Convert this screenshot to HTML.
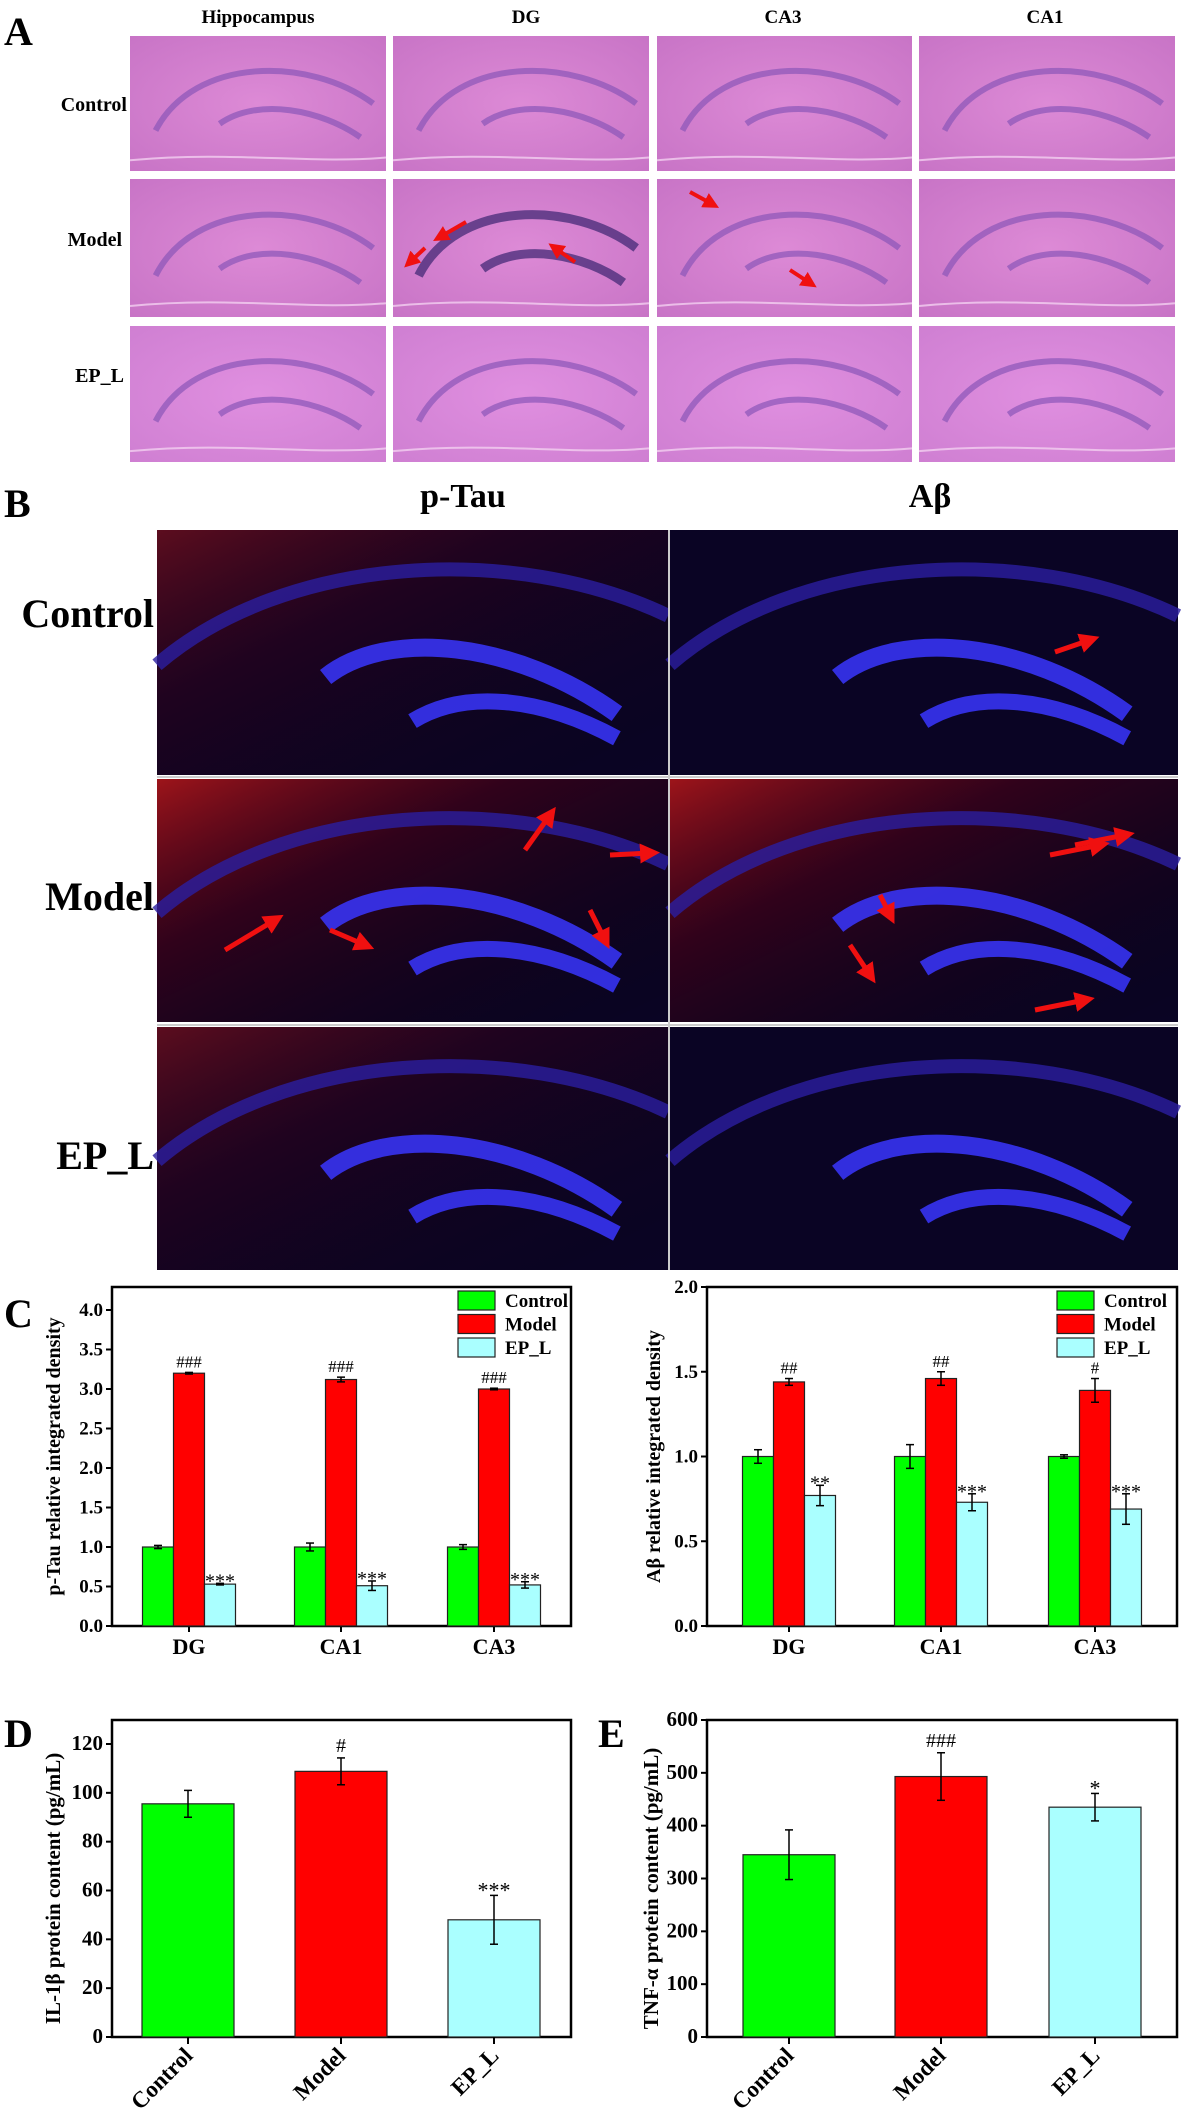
<!DOCTYPE html>
<html><head><meta charset="utf-8">
<style>
html,body{margin:0;padding:0;background:#fff;}
svg{display:block;font-family:"Liberation Serif",serif;font-weight:bold;}
</style></head>
<body>
<svg id="fig" width="1186" height="2112" viewBox="0 0 1186 2112" xmlns="http://www.w3.org/2000/svg">
<defs>
<radialGradient id="he1" cx="50%" cy="50%" r="70%"><stop offset="0" stop-color="#dd8ad6"/><stop offset="1" stop-color="#c874c6"/></radialGradient>
<radialGradient id="he2" cx="50%" cy="50%" r="70%"><stop offset="0" stop-color="#e08fe0"/><stop offset="1" stop-color="#cf7fd2"/></radialGradient>
<linearGradient id="redhaze" x1="0" y1="0" x2="1" y2="1"><stop offset="0" stop-color="#c01818" stop-opacity="0.9"/><stop offset="0.35" stop-color="#600010" stop-opacity="0.5"/><stop offset="1" stop-color="#000" stop-opacity="0"/></linearGradient>
<marker id="ah" markerWidth="4" markerHeight="4" refX="2" refY="2" orient="auto"><path d="M0,0 L4,2 L0,4 z" fill="#f01010"/></marker>
</defs>

<!-- Panel A -->
<g>
<text x="4" y="45" font-size="40">A</text>
<g font-size="19" text-anchor="middle">
<text x="258" y="23">Hippocampus</text>
<text x="526" y="23">DG</text>
<text x="783" y="23">CA3</text>
<text x="1045" y="23">CA1</text>
</g>
<g font-size="20" text-anchor="end">
<text x="127" y="111">Control</text>
<text x="122" y="246">Model</text>
<text x="124" y="382">EP_L</text>
</g>
<g id="heimgs"></g>
</g>

<!-- Panel B -->
<g>
<text x="4" y="517" font-size="40">B</text>
<text x="463" y="507" font-size="34" text-anchor="middle">p-Tau</text>
<text x="930" y="507" font-size="34" text-anchor="middle">Aβ</text>
<g font-size="40" text-anchor="end">
<text x="154" y="627">Control</text>
<text x="154" y="910">Model</text>
<text x="154" y="1169">EP_L</text>
</g>
<g id="fluimgs"></g>
</g>

<g id="charts"></g>
</svg>

<script>
// ---------- Chart data ----------
const groupsC = ["DG", "CA1", "CA3"];
const seriesNames = ["Control", "Model", "EP_L"];
const seriesColors = ["#00ff00", "#ff0000", "#aaffff"];
const ptauControl = [1.00, 1.00, 1.00];
const ptauControlErr = [0.02, 0.05, 0.03];
const ptauModel = [3.20, 3.12, 3.00];
const ptauModelErr = [0.01, 0.03, 0.01];
const ptauEPL = [0.53, 0.51, 0.52];
const ptauEPLErr = [0.01, 0.06, 0.04];
const ptauModelMarks = ["###", "###", "###"];
const ptauEPLMarks = ["***", "***", "***"];
const ptauTicks = ["0.0","0.5","1.0","1.5","2.0","2.5","3.0","3.5","4.0"];

const abControl = [1.00, 1.00, 1.00];
const abControlErr = [0.04, 0.07, 0.01];
const abModel = [1.44, 1.46, 1.39];
const abModelErr = [0.02, 0.04, 0.07];
const abEPL = [0.77, 0.73, 0.69];
const abEPLErr = [0.06, 0.05, 0.09];
const abModelMarks = ["##", "##", "#"];
const abEPLMarks = ["**", "***", "***"];
const abTicks = ["0.0","0.5","1.0","1.5","2.0"];

const groupsDE = ["Control", "Model", "EP_L"];
const il1bValues = [95.5, 108.8, 48.0];
const il1bErr = [5.5, 5.5, 10.0];
const il1bMarks = ["", "#", "***"];
const il1bTicks = ["0","20","40","60","80","100","120"];

const tnfValues = [345, 493, 435];
const tnfErr = [47, 45, 26];
const tnfMarks = ["", "###", "*"];
const tnfTicks = ["0","100","200","300","400","500","600"];

const NS = "http://www.w3.org/2000/svg";
function mk(tag, attrs, parent, text) {
  const e = document.createElementNS(NS, tag);
  for (const k in attrs) e.setAttribute(k, attrs[k]);
  if (text !== undefined) e.textContent = text;
  parent.appendChild(e);
  return e;
}

// ---------- Histology images (decorative) ----------
const heG = document.getElementById("heimgs");
const heCols = [[130,386],[393,649],[657,912],[919,1175]];
const heRows = [[36,171],[179,317],[326,462]];
for (let r = 0; r < 3; r++) for (let c = 0; c < 4; c++) {
  const [x0,x1] = heCols[c], [y0,y1] = heRows[r];
  const w = x1-x0, h = y1-y0;
  const g = mk("g", {}, heG);
  
  
  mk("rect", {x:x0,y:y0,width:w,height:h,fill: r===2 ? "url(#he2)" : "url(#he1)"}, g);
  const band = (r===1 && c===1) ? "#3a2470" : "#8a55b8";
  const sw = (r===1 && c===1) ? 9 : 6;
  mk("path", {d:`M${x0+w*0.1},${y0+h*0.7} C${x0+w*0.25},${y0+h*0.15} ${x0+w*0.7},${y0+h*0.15} ${x0+w*0.95},${y0+h*0.5}`, stroke:band, "stroke-width":sw, fill:"none", opacity:0.7}, g);
  mk("path", {d:`M${x0+w*0.35},${y0+h*0.65} C${x0+w*0.5},${y0+h*0.45} ${x0+w*0.75},${y0+h*0.55} ${x0+w*0.9},${y0+h*0.75}`, stroke:band, "stroke-width":sw, fill:"none", opacity:0.7}, g);
  mk("path", {d:`M${x0},${y0+h*0.92} C${x0+w*0.4},${y0+h*0.85} ${x0+w*0.7},${y0+h*0.95} ${x1},${y0+h*0.9}`, stroke:"#f2d0f0", "stroke-width":2, fill:"none", opacity:0.8}, g);
}
// red arrows in panel A
[[466,182+40,440,182+55],[425,182+66,410,182+80],[575,182+80,555,182+66],[690,192,712,204],[790,270,810,283]].forEach((a,i)=>{
  const l = mk("line",{x1:a[0],y1:a[1],x2:a[2],y2:a[3],stroke:"#f01010","stroke-width":4,"marker-end":"url(#ah)"},heG);
  
  
});

const fG = document.getElementById("fluimgs");
const fCols = [[157,668],[670,1178]];
const fRows = [[530,775],[779,1022],[1027,1270]];
for (let r = 0; r < 3; r++) for (let c = 0; c < 2; c++) {
  const [x0,x1] = fCols[c], [y0,y1] = fRows[r];
  const w = x1-x0, h = y1-y0;
  const g = mk("g", {}, fG);
  
  
  mk("rect", {x:x0,y:y0,width:w,height:h,fill:"#0a0424"}, g);
  if (c===0 || r===1) mk("rect", {x:x0,y:y0,width:w,height:h,fill:"url(#redhaze)", opacity: r===1 ? 0.9 : 0.5}, g);
  mk("path", {d:`M${x0},${y0+h*0.55} C${x0+w*0.25},${y0+h*0.1} ${x0+w*0.7},${y0+h*0.05} ${x1},${y0+h*0.35}`, stroke:"#2a1ea0", "stroke-width":14, fill:"none", opacity:0.8}, g);
  mk("path", {d:`M${x0+w*0.33},${y0+h*0.6} C${x0+w*0.45},${y0+h*0.4} ${x0+w*0.7},${y0+h*0.45} ${x0+w*0.9},${y0+h*0.75}`, stroke:"#3a36ff", "stroke-width":18, fill:"none", opacity:0.85}, g);
  mk("path", {d:`M${x0+w*0.5},${y0+h*0.78} C${x0+w*0.6},${y0+h*0.65} ${x0+w*0.75},${y0+h*0.68} ${x0+w*0.9},${y0+h*0.85}`, stroke:"#3a36ff", "stroke-width":16, fill:"none", opacity:0.85}, g);
}
mk("line",{x1:157,y1:777,x2:1178,y2:777,stroke:"#ccc","stroke-width":2},fG);
mk("line",{x1:157,y1:1025,x2:1178,y2:1025,stroke:"#ccc","stroke-width":2},fG);
mk("line",{x1:669,y1:530,x2:669,y2:1270,stroke:"#ccc","stroke-width":2},fG);
[[1055,652,1090,640],[525,850,550,815],[225,950,275,920],[330,930,365,945],[610,855,650,853],[590,910,605,940],[1075,845,1125,835],[850,945,870,975],[880,895,890,915],[1035,1010,1085,1000],[1050,855,1100,845]].forEach((a,i)=>{
  const l = mk("line",{x1:a[0],y1:a[1],x2:a[2],y2:a[3],stroke:"#f01010","stroke-width":5,"marker-end":"url(#ah)"},fG);
  
  
});

// ---------- Charts ----------
const cG = document.getElementById("charts");
function yScale(v, y0, yTop, vTop) { return y0 - (v / vTop) * (y0 - yTop); }

function frame(box, name) {
  const g = mk("g", {}, cG);
  
  
  const r = mk("rect", {x:box.x0,y:box.y0,width:box.x1-box.x0,height:box.y1-box.y0,fill:"none",stroke:"#000","stroke-width":2.5}, g);
  
  
  return g;
}
function yAxis(g, box, ticks, tickVal, ref, fs) {
  ticks.forEach((t,i)=>{
    const y = yScale(tickVal[i], box.y1, ref.y, ref.v);
    mk("line",{x1:box.x0-6,y1:y,x2:box.x0,y2:y,stroke:"#000","stroke-width":2},g);
    const tx = mk("text",{x:box.x0-9,y:y+6,"font-size":fs,"text-anchor":"end"},g,t);
    
    
  });
}
function errBar(g, x, yv, ye, scaleFn) {
  const yt = scaleFn(yv+ye), yb = scaleFn(yv-ye);
  mk("line",{x1:x,y1:yt,x2:x,y2:yb,stroke:"#000","stroke-width":1.5},g);
  mk("line",{x1:x-4,y1:yt,x2:x+4,y2:yt,stroke:"#000","stroke-width":1.5},g);
  mk("line",{x1:x-4,y1:yb,x2:x+4,y2:yb,stroke:"#000","stroke-width":1.5},g);
}

function groupedChart(opt) {
  const box = opt.box;
  const g = frame(box, opt.name);
  const sc = v => yScale(v, box.y1, opt.ref.y, opt.ref.v);
  yAxis(g, box, opt.ticks, opt.ticks.map(Number), opt.ref, 19);
  const series = [opt.c, opt.m, opt.e], errs = [opt.ce, opt.me, opt.ee];
  const bw = 31;
  groupsC.forEach((grp, gi) => {
    const cx = opt.centers[gi];
    mk("line",{x1:cx,y1:box.y1,x2:cx,y2:box.y1+6,stroke:"#000","stroke-width":2},g);
    const lab = mk("text",{x:cx,y:box.y1+28,"font-size":22,"text-anchor":"middle"},g,grp);
    
    
    series.forEach((s, si) => {
      const x = cx + (si-1.5)*bw;
      const y = sc(s[gi]);
      const b = mk("rect",{x:x,y:y,width:bw,height:box.y1-y,fill:seriesColors[si],stroke:"#222","stroke-width":1.2},g);
      
      
      errBar(g, x+bw/2, s[gi], errs[si][gi], sc);
    });
    const mx = cx, my = sc(opt.m[gi]+opt.me[gi]) - 5;
    const t1 = mk("text",{x:mx,y:my,"font-size":17,"font-weight":"normal","text-anchor":"middle"},g,opt.mm[gi]);
    
    
    const ex = cx + bw, ey = sc(opt.e[gi]+opt.ee[gi]) - 4;
    const t2 = mk("text",{x:ex,y:ey+8,"font-size":20,"font-weight":"normal","text-anchor":"middle"},g,opt.em[gi]);
    
    
  });
  // legend
  const lg = mk("g",{},g);
  
  
  seriesNames.forEach((n,i)=>{
    const y = box.y0 + 4 + i*23.5;
    const r = mk("rect",{x:opt.legX,y:y,width:37,height:19,fill:seriesColors[i],stroke:"#222","stroke-width":1.2},lg);
    
    
    const t = mk("text",{x:opt.legX+47,y:y+16,"font-size":19},lg,n);
    
    
  });
  const yl = mk("text",{x:0,y:0,"font-size":20,"text-anchor":"middle",transform:`translate(${opt.ylx},${(box.y0+box.y1)/2}) rotate(-90)`},g,opt.ylabel);
  
  
}

function simpleChart(opt) {
  const box = opt.box;
  const g = frame(box, opt.name);
  const sc = v => yScale(v, box.y1, opt.ref.y, opt.ref.v);
  yAxis(g, box, opt.ticks, opt.ticks.map(Number), opt.ref, 21);
  const bw = 92;
  groupsDE.forEach((grp, i) => {
    const cx = opt.centers[i];
    const y = sc(opt.vals[i]);
    const b = mk("rect",{x:cx-bw/2,y:y,width:bw,height:box.y1-y,fill:seriesColors[i],stroke:"#222","stroke-width":1.2},g);
    
    
    errBar(g, cx, opt.vals[i], opt.errs[i], sc);
    if (opt.marks[i]) {
      const fsz = opt.marks[i].indexOf('*')>=0 ? 22 : 20;
      const t = mk("text",{x:cx,y:sc(opt.vals[i]+opt.errs[i]) - 6 + (fsz===22?8:0),"font-size":fsz,"font-weight":"normal","text-anchor":"middle"},g,opt.marks[i]);
      
      
    }
    mk("line",{x1:cx,y1:box.y1,x2:cx,y2:box.y1+7,stroke:"#000","stroke-width":2},g);
    const lab = mk("text",{x:0,y:0,"font-size":23,"text-anchor":"end",transform:`translate(${cx+6},${box.y1+20}) rotate(-45)`},g,grp);
    
    
  });
  const yl = mk("text",{x:0,y:0,"font-size":21,"text-anchor":"middle",transform:`translate(${opt.ylx},${(box.y0+box.y1)/2+10}) rotate(-90)`},g,opt.ylabel);
  
  
}

// panel labels
[["C",4,1327],["D",4,1747],["E",598,1747]].forEach(p=>{
  const t = mk("text",{x:p[1],y:p[2],"font-size":40},cG,p[0]);
  
  
});

groupedChart({name:"chart-ptau", box:{x0:112,x1:571,y0:1287,y1:1626}, ref:{y:1310,v:4.0}, ticks:ptauTicks,
  c:ptauControl, ce:ptauControlErr, m:ptauModel, me:ptauModelErr, e:ptauEPL, ee:ptauEPLErr,
  mm:ptauModelMarks, em:ptauEPLMarks, centers:[189,341,494], legX:458, ylx:60,
  ylabel:"p-Tau relative integrated density"});
groupedChart({name:"chart-abeta", box:{x0:707,x1:1177,y0:1287,y1:1626}, ref:{y:1287,v:2.0}, ticks:abTicks,
  c:abControl, ce:abControlErr, m:abModel, me:abModelErr, e:abEPL, ee:abEPLErr,
  mm:abModelMarks, em:abEPLMarks, centers:[789,941,1095], legX:1057, ylx:660,
  ylabel:"Aβ relative integrated density"});
simpleChart({name:"chart-il1b", box:{x0:112,x1:571,y0:1720,y1:2037}, ref:{y:1744,v:120}, ticks:il1bTicks,
  vals:il1bValues, errs:il1bErr, marks:il1bMarks, centers:[188,341,494], ylx:60,
  ylabel:"IL-1β protein content (pg/mL)"});
simpleChart({name:"chart-tnf", box:{x0:707,x1:1177,y0:1720,y1:2037}, ref:{y:1720,v:600}, ticks:tnfTicks,
  vals:tnfValues, errs:tnfErr, marks:tnfMarks, centers:[789,941,1095], ylx:658,
  ylabel:"TNF-α protein content (pg/mL)"});
</script>
</body></html>
